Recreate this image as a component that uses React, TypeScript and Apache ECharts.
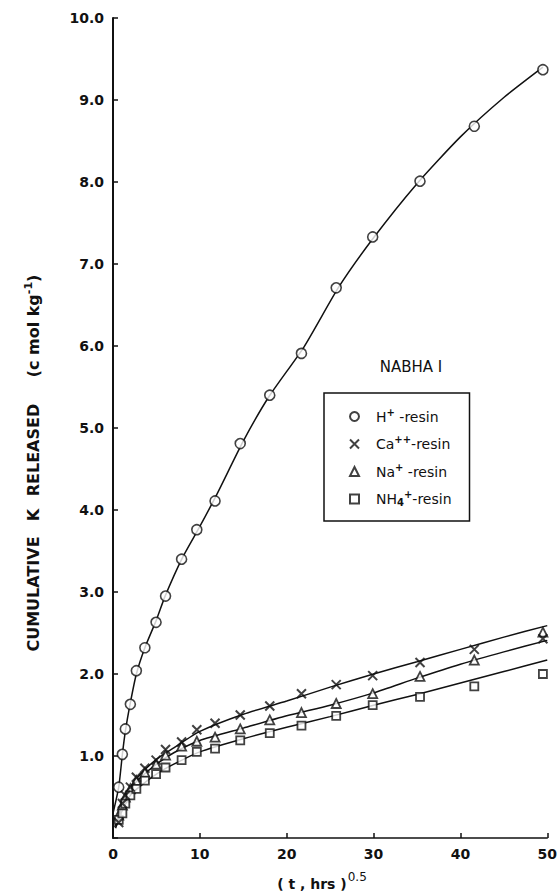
import React, { useEffect, useRef } from "react";
import * as echarts from "echarts";

// ---- data ----
// x: (t, hrs)^0.5 ; y: cumulative K released (c mol kg^-1)
const sqrtTime = [0.66, 1.08, 1.42, 2.0, 2.69, 3.67, 4.96, 6.05, 7.9, 9.65, 11.75, 14.65, 18.05, 21.7, 25.7, 29.9, 35.35, 41.6, 49.5];
const hResin = [0.62, 1.02, 1.33, 1.63, 2.04, 2.32, 2.63, 2.95, 3.4, 3.76, 4.11, 4.81, 5.4, 5.91, 6.71, 7.33, 8.01, 8.68, 9.37];
const caResin = [0.19, 0.42, 0.52, 0.62, 0.74, 0.85, 0.95, 1.08, 1.17, 1.32, 1.4, 1.5, 1.61, 1.76, 1.87, 1.98, 2.14, 2.3, 2.43];
const naResin = [0.28, 0.4, 0.5, 0.6, 0.7, 0.8, 0.9, 1.01, 1.12, 1.18, 1.23, 1.33, 1.44, 1.53, 1.64, 1.76, 1.97, 2.17, 2.51];
const nh4Resin = [0.22, 0.3, 0.42, 0.52, 0.6, 0.7, 0.78, 0.86, 0.95, 1.05, 1.09, 1.19, 1.28, 1.37, 1.49, 1.62, 1.72, 1.85, 2.0];

// fitted curves drawn in the figure
const hFitTime = [0, 0.66, 1.08, 1.42, 2, 2.69, 3.67, 5, 6, 8, 10, 12, 15, 18, 22, 26, 30, 35, 40, 45, 49.5];
const hFit = [0.3, 0.62, 1.02, 1.3, 1.65, 2.0, 2.32, 2.66, 2.95, 3.42, 3.8, 4.2, 4.84, 5.39, 5.99, 6.72, 7.32, 7.98, 8.55, 9.03, 9.4];
const fitTime = [0.3, 0.7, 1, 2, 3, 5, 7, 10, 15, 20, 25, 30, 35, 40, 45, 50];
const caFit = [0.12, 0.25, 0.42, 0.62, 0.76, 0.96, 1.1, 1.3, 1.51, 1.67, 1.84, 2.0, 2.15, 2.3, 2.45, 2.59];
const naFit = [0.15, 0.28, 0.4, 0.6, 0.72, 0.9, 1.04, 1.19, 1.34, 1.49, 1.62, 1.77, 1.95, 2.12, 2.27, 2.41];
const nh4Fit = [0.15, 0.24, 0.32, 0.52, 0.62, 0.78, 0.9, 1.05, 1.21, 1.35, 1.48, 1.62, 1.75, 1.89, 2.03, 2.17];

const xTicks = [0, 10, 20, 30, 40, 50];
const yTicks = [0, 1, 2, 3, 4, 5, 6, 7, 8, 9, 10];

const seriesNames = ["H+ -resin", "Ca++-resin", "Na+ -resin", "NH4+-resin"];
const yNameWords = ["CUMULATIVE", "K", "RELEASED", "(c mol kg-1)"];
const chartTitle = "NABHA I";
const xName = "( t , hrs )";

const FONT = "DejaVu Sans";
const CROSS = "path://M0,0L10,10M10,0L0,10";

const zip = (xs: number[], ys: number[]) => ys.map((y, i) => [xs[i], y]);

export default function App() {
  const ref = useRef<HTMLDivElement>(null);

  useEffect(() => {
    const chart = echarts.init(ref.current!, null, { renderer: "svg" });

    const ink = "#111";
    const lineStyle = { color: ink, width: 1.5 };
    const fitLine = (name: string, data: number[][]) => ({
      name,
      type: "line",
      data,
      smooth: 0.2,
      showSymbol: false,
      symbol: "none",
      lineStyle,
      z: 2,
      silent: true,
    });

    const richLegend: Record<string, string> = {
      "H+ -resin": "{b|H}{s|+}{b| -resin}",
      "Ca++-resin": "{b|Ca}{s|++}{b|-resin}",
      "Na+ -resin": "{b|Na}{s|+}{b| -resin}",
      "NH4+-resin": "{b|NH}{d|4}{s|+}{b|-resin}",
    };

    const option: any = {
      animation: false,
      backgroundColor: "#fff",
      title: {
        text: chartTitle,
        left: 406,
        top: 354,
        textAlign: "center",
        textStyle: { fontFamily: FONT, fontSize: 15, fontWeight: "normal", color: ink },
      },
      grid: { left: 113, right: 12, top: 18, bottom: 56, containLabel: false },
      xAxis: {
        type: "value",
        min: xTicks[0],
        max: xTicks[xTicks.length - 1],
        interval: 10,
        axisLine: { show: true, lineStyle: { color: ink, width: 1.5 } },
        axisTick: { show: true, inside: true, length: 5, lineStyle: { color: ink, width: 1.5 } },
        axisLabel: { margin: 9, fontFamily: FONT, fontWeight: "bold", fontSize: 14, color: ink },
        splitLine: { show: false },
      },
      yAxis: {
        type: "value",
        min: yTicks[0],
        max: yTicks[yTicks.length - 1],
        interval: 1,
        axisLine: { show: true, lineStyle: { color: ink, width: 2 } },
        axisTick: { show: true, inside: true, length: 5, lineStyle: { color: ink, width: 1.5 } },
        axisLabel: {
          margin: 9,
          fontFamily: FONT,
          fontWeight: "bold",
          fontSize: 14,
          color: ink,
          formatter: (v: number) => (v === 0 ? "" : v.toFixed(1)),
        },
        splitLine: { show: false },
      },
      legend: {
        orient: "vertical",
        left: 324,
        top: 393,
        data: [
          { name: seriesNames[0], icon: "circle" },
          { name: seriesNames[1], icon: CROSS },
          { name: seriesNames[2], icon: "triangle" },
          { name: seriesNames[3], icon: "rect" },
        ],
        itemWidth: 9,
        itemHeight: 9,
        itemGap: 11,
        padding: [14, 18, 14, 25],
        borderColor: ink,
        borderWidth: 1.5,
        selectedMode: false,
        formatter: (n: string) => richLegend[n] ?? n,
        textStyle: {
          color: ink,
          fontFamily: FONT,
          fontSize: 14,
          padding: [0, 0, 0, 12],
          rich: {
            b: { fontFamily: FONT, fontSize: 14, color: ink },
            s: { fontFamily: FONT, fontSize: 10, fontWeight: "bold", color: ink, padding: [0, 0, 9, 0] },
            d: { fontFamily: FONT, fontSize: 10, fontWeight: "bold", color: ink, padding: [6, 0, 0, 0] },
          },
        },
      },
      graphic: [
        {
          type: "text",
          x: 33,
          y: 594,
          rotation: Math.PI / 2,
          style: { text: yNameWords[0], font: `bold 16px "${FONT}"`, fill: ink, align: "center", verticalAlign: "middle" },
        },
        {
          type: "text",
          x: 33,
          y: 515,
          rotation: Math.PI / 2,
          style: { text: yNameWords[1], font: `bold 16px "${FONT}"`, fill: ink, align: "center", verticalAlign: "middle" },
        },
        {
          type: "text",
          x: 33,
          y: 450,
          rotation: Math.PI / 2,
          style: { text: yNameWords[2], font: `bold 16px "${FONT}"`, fill: ink, align: "center", verticalAlign: "middle" },
        },
        {
          type: "text",
          x: 33,
          y: 326,
          rotation: Math.PI / 2,
          style: {
            text: "{a|(c mol kg}{s|-1}{a|)}",
            fill: ink,
            align: "center",
            verticalAlign: "middle",
            rich: {
              a: { fontFamily: FONT, fontWeight: "bold", fontSize: 16, fill: ink },
              s: { fontFamily: FONT, fontWeight: "bold", fontSize: 11, fill: ink, padding: [0, 0, 10, 0] },
            },
          },
        },
        {
          type: "text",
          x: 322,
          y: 884,
          style: {
            text: `{a|${xName}}{s|0.5}`,
            fill: ink,
            align: "center",
            verticalAlign: "middle",
            rich: {
              a: { fontFamily: FONT, fontWeight: "bold", fontSize: 14, fill: ink },
              s: { fontFamily: FONT, fontSize: 12, fill: ink, padding: [0, 0, 14, 1] },
            },
          },
        },
      ],
      series: [
        fitLine("hFit", zip(hFitTime, hFit)),
        fitLine("caFit", zip(fitTime, caFit)),
        fitLine("naFit", zip(fitTime, naFit)),
        fitLine("nh4Fit", zip(fitTime, nh4Fit)),
        {
          name: seriesNames[0],
          type: "scatter",
          data: zip(sqrtTime, hResin),
          symbol: "circle",
          symbolSize: 10,
          itemStyle: { color: "#fff", borderColor: ink, borderWidth: 1.6 },
          z: 5,
        },
        {
          name: seriesNames[1],
          type: "scatter",
          data: zip(sqrtTime, caResin),
          symbol: CROSS,
          symbolSize: 9,
          itemStyle: { color: ink, borderColor: ink, borderWidth: 2 },
          z: 6,
        },
        {
          name: seriesNames[2],
          type: "scatter",
          data: zip(sqrtTime, naResin),
          symbol: "triangle",
          symbolSize: 9,
          itemStyle: { color: "#fff", borderColor: ink, borderWidth: 1.8 },
          z: 5,
        },
        {
          name: seriesNames[3],
          type: "scatter",
          data: zip(sqrtTime, nh4Resin),
          symbol: "rect",
          symbolSize: 8,
          itemStyle: { color: "#fff", borderColor: ink, borderWidth: 1.8 },
          z: 5,
        },
      ],
    };

    chart.setOption(option);
    return () => chart.dispose();
  }, []);

  return <div ref={ref} style={{ position: "absolute", left: 0, top: 0, width: 560, height: 894 }} />;
}
